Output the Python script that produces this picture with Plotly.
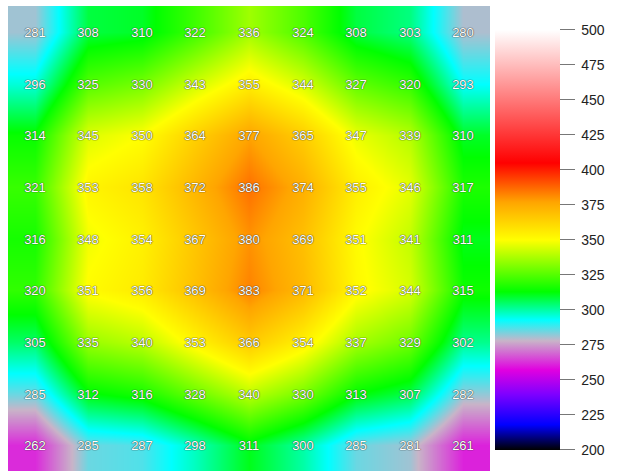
import plotly.graph_objects as go

# 9x9 grid of readings, rows listed top to bottom
rows = ["r1", "r2", "r3", "r4", "r5", "r6", "r7", "r8", "r9"]
cols = ["c1", "c2", "c3", "c4", "c5", "c6", "c7", "c8", "c9"]
values = [
    [281, 308, 310, 322, 336, 324, 308, 303, 280],
    [296, 325, 330, 343, 355, 344, 327, 320, 293],
    [314, 345, 350, 364, 377, 365, 347, 339, 310],
    [321, 353, 358, 372, 386, 374, 355, 346, 317],
    [316, 348, 354, 367, 380, 369, 351, 341, 311],
    [320, 351, 356, 369, 383, 371, 352, 344, 315],
    [305, 335, 340, 353, 366, 354, 337, 329, 302],
    [285, 312, 316, 328, 340, 330, 313, 307, 282],
    [262, 285, 287, 298, 311, 300, 285, 281, 261],
]
zmin, zmax = 200, 500
tick_vals = [200, 225, 250, 275, 300, 325, 350, 375, 400, 425, 450, 475, 500]
tick_text = ["\u00a0" + str(v) for v in tick_vals]

# colour stops keyed by data value
stops = [
    (200, "#000000"),
    (218, "#0000ff"),
    (240, "#8000ff"),
    (257, "#e000e0"),
    (278, "#c8b4c8"),
    (293, "#00ffff"),
    (313, "#00ff00"),
    (350, "#ffff00"),
    (377, "#ffa500"),
    (405, "#ff0000"),
    (500, "#ffffff"),
]
colorscale = [[(v - zmin) / (zmax - zmin), c] for v, c in stops]

fig = go.Figure(
    go.Heatmap(
        z=values,
        x=cols,
        y=rows,
        zmin=zmin,
        zmax=zmax,
        zsmooth="best",
        colorscale=colorscale,
        texttemplate="%{z}",
        textfont=dict(
            family="Arial, Liberation Sans, sans-serif",
            size=13,
            color="white",
            shadow="0px 0px 1px #333, 0px 0px 1px #333",
        ),
        colorbar=dict(
            thickness=65,
            lenmode="pixels",
            len=420,
            ypad=0,
            y=0.497,
            yanchor="middle",
            x=1,
            xanchor="left",
            xpad=5,
            outlinewidth=0,
            tickmode="array",
            tickvals=tick_vals,
            ticktext=tick_text,
            ticks="outside",
            ticklen=15,
            tickcolor="#777",
            tickwidth=1,
            tickfont=dict(family="Arial, Liberation Sans, sans-serif", size=14, color="#222"),
        ),
    )
)

fig.update_layout(
    width=619,
    height=471,
    margin=dict(l=8, r=129, t=6, b=0),
    paper_bgcolor="white",
    plot_bgcolor="white",
    xaxis=dict(visible=False),
    yaxis=dict(visible=False, autorange="reversed"),
)

fig.write_html("out.html")
